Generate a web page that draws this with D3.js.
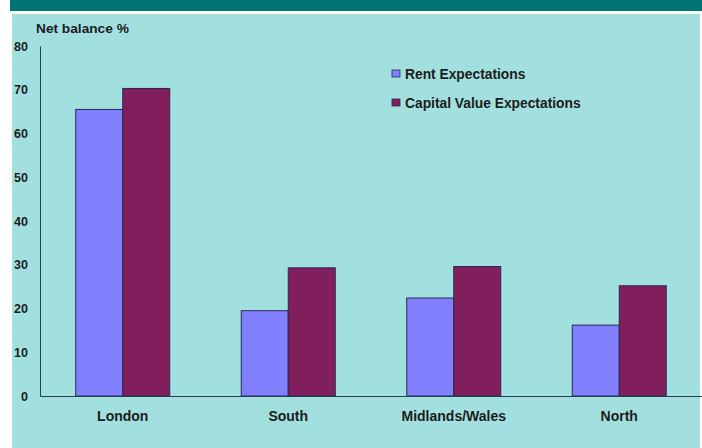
<!DOCTYPE html>
<html>
<head>
<meta charset="utf-8">
<script src="https://cdn.jsdelivr.net/npm/d3@7/dist/d3.min.js"></script>
<style>
  html, body { margin: 0; padding: 0; background: #ffffff; }
  svg { display: block; }
  text { font-family: "Liberation Sans", Arial, sans-serif; font-weight: bold; fill: #1c1c1c; }
</style>
</head>
<body>
<svg id="chart" width="702" height="448"></svg>
<script>
// Regional net balance data
const regions = ["London", "South", "Midlands/Wales", "North"];
const seriesNames = ["Rent Expectations", "Capital Value Expectations"];
const rentValues = [65.5, 19.5, 22.4, 16.2];
const capitalValues = [70.3, 29.3, 29.6, 25.2];
const yTicks = [0, 10, 20, 30, 40, 50, 60, 70, 80];
const seriesColors = ["#8080ff", "#801f5c"];

const svg = d3.select("#chart");

// Header band and panel background
svg.append("rect").attr("x", 10).attr("y", 0).attr("width", 692).attr("height", 11).attr("fill", "#007474");
svg.append("rect").attr("x", 12).attr("y", 14).attr("width", 688).attr("height", 434).attr("fill", "#a2e0e0");

const margin = { left: 40, right: 702, top: 46, bottom: 396 };

const x0 = d3.scaleBand().domain(regions).range([margin.left, margin.right]).paddingInner(0).paddingOuter(0);
const groupWidth = 94;
const x1 = d3.scaleBand().domain(seriesNames).range([0, groupWidth]);
const y = d3.scaleLinear().domain([0, 80]).range([margin.bottom, margin.top]);

const fontFamily = '"Liberation Sans", Arial, sans-serif';

// Y axis: line plus labels
const yAxis = d3.axisLeft(y).tickValues(yTicks).tickSize(0).tickPadding(12).tickFormat(d3.format("d"));
const gy = svg.append("g").attr("transform", `translate(${margin.left},0)`).call(yAxis);
gy.select(".domain").attr("stroke", "#2a3a50").attr("stroke-width", 1);
gy.selectAll("text").attr("font-size", 12.5).attr("fill", "#1c1c1c")
  .style("font-family", fontFamily).style("font-weight", "bold");

// Bars
const data = regions.map((r, i) => ({ region: r, values: [rentValues[i], capitalValues[i]] }));
const groups = svg.append("g").selectAll("g").data(data).join("g")
  .attr("transform", d => `translate(${x0(d.region) + (x0.bandwidth() - groupWidth) / 2},0)`);
groups.selectAll("rect").data(d => d.values.map((v, j) => ({ v, name: seriesNames[j], j })))
  .join("rect")
  .attr("x", d => x1(d.name))
  .attr("y", d => y(d.v))
  .attr("width", x1.bandwidth())
  .attr("height", d => y(0) - y(d.v))
  .attr("fill", d => seriesColors[d.j])
  .attr("stroke", "#2a2850")
  .attr("stroke-width", 1);

// X axis
const xAxis = d3.axisBottom(x0).tickSize(0).tickPadding(15);
const gx = svg.append("g").attr("transform", `translate(0,${margin.bottom})`).call(xAxis);
gx.select(".domain").attr("stroke", "#2a3a50").attr("stroke-width", 1);
gx.selectAll("text").attr("font-size", 14).attr("fill", "#1c1c1c")
  .style("font-family", fontFamily).style("font-weight", "bold");

// Axis title
svg.append("text").attr("x", 36).attr("y", 33).attr("font-size", 13.7).text("Net balance %");

// Legend
const legend = svg.append("g").selectAll("g").data(seriesNames).join("g")
  .attr("transform", (d, i) => `translate(392,${74 + i * 29})`);
legend.append("rect").attr("x", 0).attr("y", -4).attr("width", 8).attr("height", 7)
  .attr("fill", (d, i) => seriesColors[i]).attr("stroke", "#2a2850").attr("stroke-width", 0.8);
legend.append("text").attr("x", 13).attr("y", 4.5).attr("font-size", 13.8).text(d => d);
</script>
</body>
</html>
